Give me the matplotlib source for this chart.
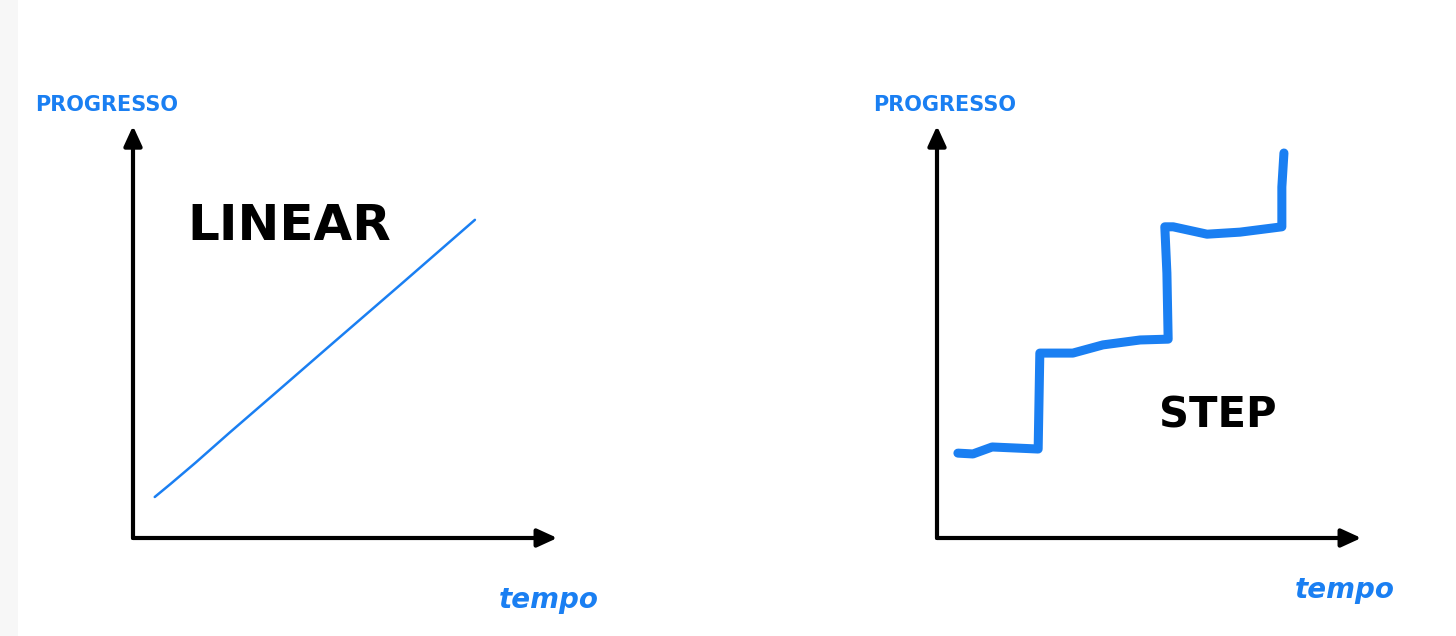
import matplotlib
matplotlib.use("Agg")
import matplotlib.pyplot as plt
from matplotlib.patches import Rectangle

# ---- data (time units 0..10, progress units 0..10) ----
linear_time = [0.52, 0.9, 1.5, 2.3, 3.4, 4.8, 6.4, 8.18]
linear_progress = [1.0, 1.32, 1.84, 2.56, 3.53, 4.77, 6.18, 7.76]

step_time = [0.50, 0.86, 1.32, 2.42, 2.46, 3.25, 3.97, 4.86, 5.53, 5.50, 5.45,
             5.65, 6.46, 7.25, 8.25, 8.25, 8.30]
step_progress = [2.07, 2.05, 2.22, 2.17, 4.51, 4.51, 4.71, 4.83, 4.85, 6.46, 7.59,
                 7.59, 7.41, 7.46, 7.59, 8.56, 9.39]

panel_titles = ["LINEAR", "STEP"]
y_label = "PROGRESSO"
x_label = "tempo"

BLUE = "#1a7ff2"
W, H = 1456, 636

fig = plt.figure(figsize=(W / 100, H / 100), dpi=100)
fig.patch.set_facecolor("white")
fig.add_artist(Rectangle((0, 0), 18 / W, 1, transform=fig.transFigure,
                         facecolor="#f7f7f7", edgecolor="none", zorder=0))


def make_axes(x0px):
    left = x0px / W
    bottom = (H - 538) / H
    ax = fig.add_axes([left, bottom, 418 / W, 410 / H])
    ax.set_xlim(0, 10)
    ax.set_ylim(0, 10)
    ax.axis("off")
    # axes arrows
    ax.annotate("", xy=(10.15, 0), xytext=(0, 0), annotation_clip=False,
                arrowprops=dict(arrowstyle="-|>,head_length=1.2,head_width=0.55",
                                color="black", lw=3, shrinkA=0, shrinkB=0))
    ax.annotate("", xy=(0, 10.05), xytext=(0, 0), annotation_clip=False,
                arrowprops=dict(arrowstyle="-|>,head_length=1.2,head_width=0.55",
                                color="black", lw=3, shrinkA=0, shrinkB=0))
    return ax


ax1 = make_axes(133)
ax1.plot(linear_time, linear_progress, color=BLUE, lw=1.8, solid_capstyle="round")
ax1.text(1.3, 7.6, panel_titles[0], fontsize=36, fontweight="bold", color="black",
         family="DejaVu Sans Condensed", va="center", ha="left")
ax1.text(-0.62, 10.56, y_label, fontsize=15, fontweight="bold", color=BLUE,
         family="DejaVu Sans Condensed", ha="center", va="center")
ax1.text(9.95, -1.51, x_label, fontsize=20, fontweight="bold", style="italic",
         color=BLUE, ha="center", va="center")

ax2 = make_axes(937)
ax2.plot(step_time, step_progress, color=BLUE, lw=6.5, solid_capstyle="round",
         solid_joinstyle="round")
ax2.text(5.3, 3.0, panel_titles[1], fontsize=30, fontweight="bold", color="black",
         family="DejaVu Sans Condensed", va="center", ha="left")
ax2.text(0.19, 10.56, y_label, fontsize=15, fontweight="bold", color=BLUE,
         family="DejaVu Sans Condensed", ha="center", va="center")
ax2.text(9.76, -1.27, x_label, fontsize=20, fontweight="bold", style="italic",
         color=BLUE, ha="center", va="center")

fig.savefig("out.png", dpi=100, facecolor="white")
